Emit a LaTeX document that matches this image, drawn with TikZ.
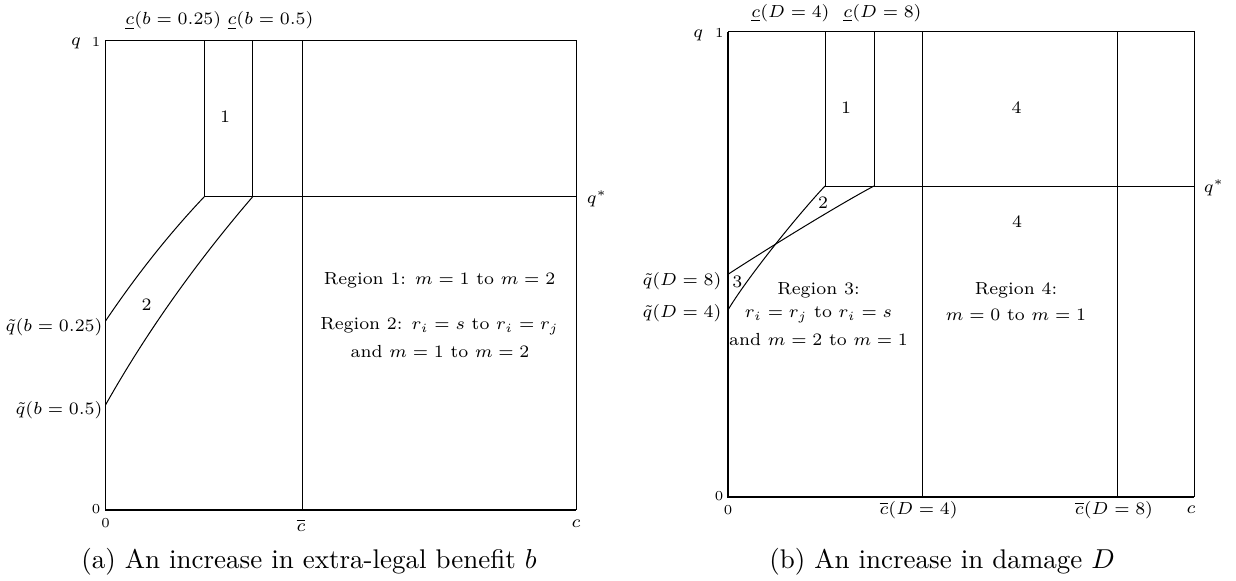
\documentclass[tikz,border=0pt]{standalone}
\begin{document}
\begin{tikzpicture}[x=0.4pt,y=-0.4pt,
  lab/.style={font=\fontsize{7}{8.4}\selectfont, inner sep=0pt},
  tick/.style={font=\fontsize{5.5}{6}\selectfont, inner sep=0pt},
  captxt/.style={font=\fontsize{10.8}{12}\selectfont, inner sep=0pt},
  ln/.style={line width=0.4pt},
  ax/.style={line width=0.6pt}]
\useasboundingbox (0,0) rectangle (1236,581);

% ---------------- Panel (a) ----------------
\coordinate (aTL) at (105.5,40);
\coordinate (aBL) at (105.5,510);
\coordinate (aBR) at (576,510);
\coordinate (aTR) at (576,40);
\coordinate (aK1) at (204.3,196.7);
\coordinate (aK2) at (252.7,196.7);
\coordinate (aQR) at (576,196.7);
\coordinate (aU1) at (204.3,40);
\coordinate (aU2) at (252.7,40);
\coordinate (aCt) at (302,40);
\coordinate (aCb) at (302,510);
\coordinate (aQ1) at (105.5,321);
\coordinate (aQ2) at (105.5,405);

\draw[ln] (aTL) -- (aTR) -- (aBR);
\draw[ax] (aTL) -- (aBL) -- (aBR);
\draw[ln] (aU1) -- (aK1);
\draw[ln] (aU2) -- (aK2);
\draw[ln] (aCt) -- (aCb);
\draw[ln] (aK1) -- (aQR);
\draw[ln] (aQ1) .. controls (136.8,274.6) and (169.7,233.2) .. (aK1);
\draw[ln] (aQ2) .. controls (145.7,333.6) and (194.8,264.2) .. (aK2);

\node[lab] (aq) at (76,43.5) {$q$};
\node[tick] (a1) at (96,41.5) {1};
\node[tick] (a0l) at (96,509) {0};
\node[tick] (a0b) at (105.5,523) {0};
\node[lab] (acbar) at (301,525) {$\overline{c}$};
\node[lab] (ac) at (576,524) {$c$};
\node[lab] (aqs) at (597,199) {$q^{*}$};
\node[lab] (aul1) at (173.3,20.7) {$\underline{c}(b=0.25)$};
\node[lab] (aul2) at (270.5,20.7) {$\underline{c}(b=0.5)$};
\node[lab,anchor=east] (aqt1) at (103,326.7) {$\tilde{q}(b=0.25)$};
\node[lab,anchor=east] (aqt2) at (103,410) {$\tilde{q}(b=0.5)$};
\node[lab] (ar1) at (225,117) {1};
\node[lab] (ar2) at (146.7,305) {2};
\node[lab] (at1) at (439.5,280.7) {Region 1: $m=1$ to $m=2$};
\node[lab] (at2) at (439.5,326) {Region 2: $r_i=s$ to $r_i=r_j$};
\node[lab] (at3) at (440,351.7) {and $m=1$ to $m=2$};
\node[captxt] (acap) at (309,561.7) {(a)\ An increase in extra-legal benefit $b$};

% ---------------- Panel (b) ----------------
\coordinate (bTL) at (728,31.5);
\coordinate (bBL) at (728,497);
\coordinate (bBR) at (1194,497);
\coordinate (bTR) at (1194,31.5);
\coordinate (bK1) at (825,186);
\coordinate (bK2) at (874,186);
\coordinate (bQR) at (1194,186);
\coordinate (bU1) at (825,31.5);
\coordinate (bU2) at (874,31.5);
\coordinate (bC4t) at (922.7,31.5);
\coordinate (bC4b) at (922.7,497);
\coordinate (bC8t) at (1117.5,31.5);
\coordinate (bC8b) at (1117.5,497);
\coordinate (bQ8) at (728,274.3);
\coordinate (bQ4) at (728,310);

\draw[ln] (bTL) -- (bTR) -- (bBR);
\draw[ax] (bTL) -- (bBL) -- (bBR);
\draw[ln] (bU1) -- (bK1);
\draw[ln] (bU2) -- (bK2);
\draw[ln] (bC4t) -- (bC4b);
\draw[ln] (bC8t) -- (bC8b);
\draw[ln] (bK1) -- (bQR);
\draw[ln] (bQ8) .. controls (770,247) and (840,204) .. (bK2);
\draw[ln] (bQ4) .. controls (745,281) and (795,218) .. (bK1);

\node[lab] (bq) at (698.3,35) {$q$};
\node[tick] (b1) at (719.3,32.7) {1};
\node[tick] (b0l) at (719,496) {0};
\node[tick] (b0b) at (728,510) {0};
\node[lab] (bcb4) at (918.6,510) {$\overline{c}(D=4)$};
\node[lab] (bcb8) at (1114,510) {$\overline{c}(D=8)$};
\node[lab] (bc) at (1191,510) {$c$};
\node[lab] (bqs) at (1214,188) {$q^{*}$};
\node[lab] (bul4) at (790.5,13.3) {$\underline{c}(D=4)$};
\node[lab] (bul8) at (882.5,13.3) {$\underline{c}(D=8)$};
\node[lab,anchor=east] (bqt8) at (722,281) {$\tilde{q}(D=8)$};
\node[lab,anchor=east] (bqt4) at (722,313) {$\tilde{q}(D=4)$};
\node[lab] (br1) at (846,108) {1};
\node[lab] (br4a) at (1016.6,108) {4};
\node[lab] (br2) at (823,203) {2};
\node[lab] (br4b) at (1017,221.7) {4};
\node[lab] (br3) at (737.3,281.7) {3};
\node[lab] (bt31) at (818.5,290.7) {Region 3:};
\node[lab] (bt32) at (818.5,315) {$r_i=r_j$ to $r_i=s$};
\node[lab] (bt33) at (818.5,339.3) {and $m=2$ to $m=1$};
\node[lab] (bt41) at (1016,290.7) {Region 4:};
\node[lab] (bt42) at (1016,315) {$m=0$ to $m=1$};
\node[captxt] (bcap) at (942,562) {(b)\ An increase in damage $D$};
\end{tikzpicture}
\end{document}
